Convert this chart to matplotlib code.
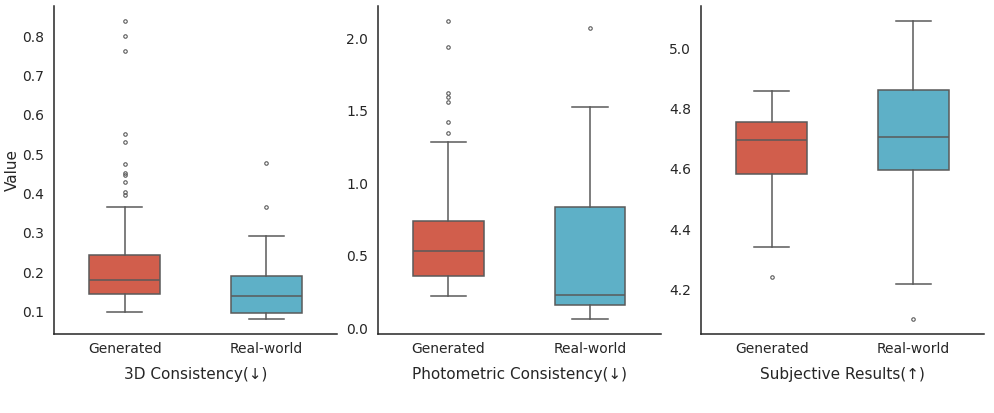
import matplotlib
matplotlib.use("Agg")
import matplotlib.pyplot as plt

# categories and panel titles
groups = ["Generated", "Real-world"]
panel_titles = ["3D Consistency(\u2193)", "Photometric Consistency(\u2193)", "Subjective Results(\u2191)"]

# box statistics: [Generated, Real-world]
cons3d_med = [0.180, 0.140]
cons3d_q1 = [0.145, 0.097]
cons3d_q3 = [0.243, 0.190]
cons3d_lo = [0.099, 0.082]
cons3d_hi = [0.366, 0.291]
cons3d_fliers = [
    [0.838, 0.800, 0.762, 0.552, 0.530, 0.474, 0.452, 0.447, 0.430, 0.405, 0.396],
    [0.478, 0.367],
]

photo_med = [0.535, 0.228]
photo_q1 = [0.361, 0.159]
photo_q3 = [0.738, 0.839]
photo_lo = [0.223, 0.066]
photo_hi = [1.287, 1.526]
photo_fliers = [
    [2.117, 1.940, 1.625, 1.597, 1.561, 1.425, 1.349],
    [2.071],
]

subj_med = [4.695, 4.706]
subj_q1 = [4.582, 4.597]
subj_q3 = [4.755, 4.862]
subj_lo = [4.342, 4.218]
subj_hi = [4.859, 5.090]
subj_fliers = [[4.241], [4.102]]

colors = ["#d15e4c", "#5eb0c7"]
line_color = "#5a5a5a"


def make_stats(med, q1, q3, lo, hi, fliers):
    stats = []
    for i in range(len(groups)):
        stats.append(dict(med=med[i], q1=q1[i], q3=q3[i],
                          whislo=lo[i], whishi=hi[i], fliers=fliers[i]))
    return stats


panels = [
    make_stats(cons3d_med, cons3d_q1, cons3d_q3, cons3d_lo, cons3d_hi, cons3d_fliers),
    make_stats(photo_med, photo_q1, photo_q3, photo_lo, photo_hi, photo_fliers),
    make_stats(subj_med, subj_q1, subj_q3, subj_lo, subj_hi, subj_fliers),
]
ylims = [(0.043, 0.877), (-0.039, 2.223), (4.052, 5.141)]
yticks = [
    [0.1, 0.2, 0.3, 0.4, 0.5, 0.6, 0.7, 0.8],
    [0.0, 0.5, 1.0, 1.5, 2.0],
    [4.2, 4.4, 4.6, 4.8, 5.0],
]
lefts = [0.0543, 0.3796, 0.7045]

fig = plt.figure(figsize=(9.95, 4.13), dpi=100)

for k in range(3):
    ax = fig.add_axes([lefts[k], 0.1913, 0.2844, 0.7942])
    bp = ax.bxp(panels[k], positions=[0, 1], widths=0.5, patch_artist=True,
                boxprops=dict(edgecolor=line_color, linewidth=1.1),
                medianprops=dict(color=line_color, linewidth=1.1),
                whiskerprops=dict(color=line_color, linewidth=1.1),
                capprops=dict(color=line_color, linewidth=1.1),
                flierprops=dict(marker="o", markersize=2.5, markerfacecolor="none",
                                markeredgecolor=line_color, markeredgewidth=0.8))
    for patch, c in zip(bp["boxes"], colors):
        patch.set_facecolor(c)
    ax.set_xlim(-0.5, 1.5)
    ax.set_ylim(*ylims[k])
    ax.set_yticks(yticks[k])
    ax.set_xticks([0, 1])
    ax.set_xticklabels(groups)
    ax.tick_params(axis="y", length=0, labelsize=10, colors="#262626", pad=7)
    ax.tick_params(axis="x", length=0, labelsize=10, colors="#262626", pad=6)
    ax.set_xlabel(panel_titles[k], fontsize=11, color="#262626", labelpad=8)
    for side in ["top", "right"]:
        ax.spines[side].set_visible(False)
    for side in ["left", "bottom"]:
        ax.spines[side].set_color("#262626")
        ax.spines[side].set_linewidth(1.1)
    if k == 0:
        ax.set_ylabel("Value", fontsize=11, color="#262626", labelpad=2)

fig.savefig("out.png", dpi=100)
